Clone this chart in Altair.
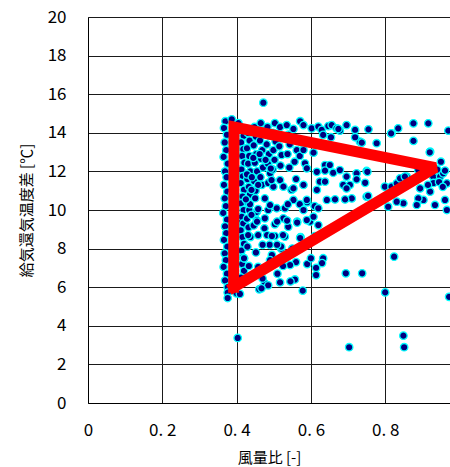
import altair as alt
import pandas as pd

# ---------------- data ----------------
left_x = [0.370,0.366,0.374,0.368,0.372,0.365,0.376,0.369,0.373,0.366,0.375,0.368,0.371,0.364,0.374,0.369,0.372,0.366,0.375,0.368,0.371,0.365,0.374,0.369,0.376,0.376,0.376]
left_y = [14.6,14.25,13.9,13.5,13.1,12.75,12.4,12.0,11.7,11.3,10.95,10.6,10.2,9.85,9.5,9.15,8.8,8.45,8.1,7.75,7.4,7.05,6.7,6.35,6.0,5.72,5.44]

bar_x = [0.387,0.405,0.395,0.401,0.388,0.404,0.396,0.400,0.409,0.392]
bar_y = [14.7,14.5,13.3,12.0,10.8,9.4,8.0,5.68,5.65,6.9]

c1_x = [0.414,0.419,0.412,0.418,0.415,0.421,0.413,0.417,0.411,0.420,0.416,0.412,0.419,0.414,0.418,0.411,0.416,0.420,0.413,0.417,0.415,0.420,0.412]
c1_y = [14.2,13.85,13.5,13.15,12.8,12.45,12.1,11.75,11.4,11.05,10.7,10.35,10.0,9.65,9.3,8.95,8.6,8.25,7.9,7.55,7.2,6.85,6.5]

c2_x = [0.430,0.435,0.428,0.434,0.431,0.437,0.429,0.433,0.436,0.430,0.434,0.428,0.432,0.437,0.429,0.420,0.433]
c2_y = [14.0,13.6,13.2,12.8,12.4,12.0,11.6,11.2,10.8,10.4,10.0,9.55,9.1,8.6,8.1,7.5,7.1]

c3_x = [0.448,0.452,0.446,0.453,0.449,0.455,0.447,0.451,0.450,0.454,0.446,0.458,0.452]
c3_y = [14.3,13.8,13.35,12.9,12.45,12.0,11.5,11.0,10.61,9.9,9.2,8.7,7.8]

c4_x = [0.465,0.470,0.463,0.469,0.466,0.471,0.464,0.468,0.454,0.476,0.475,0.458]
c4_y = [14.5,14.05,13.6,13.1,12.65,12.2,11.7,11.3,9.48,9.57,9.05,7.05]

c5_x = [0.483,0.488,0.481,0.487,0.484,0.490,0.485,0.485,0.482,0.489]
c5_y = [14.3,13.85,13.4,12.9,12.4,11.9,11.4,10.0,8.7,8.2]

c6_x = [0.503,0.498,0.505,0.499,0.502,0.497,0.499,0.494,0.503,0.503,0.495]
c6_y = [14.5,14.0,13.55,13.1,12.6,12.1,11.21,11.55,9.26,8.65,7.67]

c7_x = [0.517,0.522,0.515,0.521,0.518,0.517,0.508,0.526,0.530,0.526,0.520]
c7_y = [14.3,13.8,13.3,12.85,12.3,11.55,10.09,11.21,10.09,9.57,8.0]

c8_x = [0.535,0.540,0.543,0.537,0.542,0.548,0.539,0.530,0.553,0.553]
c8_y = [14.4,13.9,13.4,12.9,12.2,11.04,9.13,8.62,10.52,11.12]

c9_x = [0.553,0.558,0.562,0.556,0.560,0.571,0.575,0.570,0.563,0.572]
c9_y = [14.2,13.7,13.1,12.5,11.6,14.6,13.5,12.8,9.4,8.6]

mid_x = [0.440,0.458,0.436,0.490,0.538,0.570,0.590,0.610,0.455,0.509,0.536,0.563,0.598,0.431,0.495,0.525,0.571,0.611,0.470,0.520,0.550,0.560,0.590,0.600,
         0.445,0.462,0.478,0.428,0.441,0.425,0.458,0.44,0.476,0.492]
mid_y = [11.04,11.3,10.3,10.25,10.3,10.3,10.4,10.2,9.4,9.4,9.45,9.35,9.4,8.7,8.65,8.7,8.55,8.65,8.2,8.1,8.0,7.3,7.2,7.5,
         12.7,12.9,12.6,11.85,11.7,10.55,10.05,9.75,10.6,12.15]

low_x = [0.461,0.476,0.470,0.485,0.517,0.510,0.557,0.545,0.578,0.544,0.420,0.467,0.490,0.509,0.525]
low_y = [5.89,6.2,6.45,6.1,6.25,6.7,6.4,6.3,5.82,7.15,7.5,5.94,7.4,8.2,7.1]

right_x = [0.580,0.602,0.620,0.629,0.647,0.656,0.669,0.678,0.696,0.719,0.755,0.777,0.732,0.737,0.817,0.835,0.876,0.916,0.970,0.921,0.876,0.654,0.633,0.719,
           0.580,0.607,0.584,0.589,0.638,0.651,0.660,0.678,0.616,0.638,0.723,0.750,0.696,0.723,0.746,0.624,0.638,0.580,0.616,0.687,0.705,0.696,0.750,0.799,0.817,0.831,0.840,0.858,
           0.894,0.921,0.939,0.929,0.948,0.956,0.966,0.961,0.966,0.934,0.903,0.889,0.885,0.849,0.831,0.808,0.710,0.692,0.665,0.643,0.589,0.580,0.620,0.607,0.589,0.620,0.961,0.920,0.889,
           0.853,0.754,0.752,0.674,0.816,0.930,0.945,0.915,0.955,0.940,0.950,
           0.633,0.630,0.614,0.614,0.694,0.738,0.824,0.800,0.972]
right_y = [14.40,14.23,14.32,14.15,14.35,14.40,14.23,14.11,14.40,14.15,14.18,13.46,13.54,13.49,13.97,14.23,14.49,14.49,14.11,13.02,13.58,13.77,13.89,13.77,
           13.11,12.97,12.42,12.16,12.33,12.33,11.93,12.07,11.98,12.04,11.90,12.02,11.73,11.59,11.41,11.47,11.47,11.30,11.04,11.30,11.30,11.12,10.69,11.21,11.21,11.38,11.64,11.73,
           11.12,10.95,11.55,11.73,11.73,11.90,11.38,10.52,10.00,10.26,10.52,10.60,10.26,10.35,10.43,10.17,10.60,10.55,10.55,10.52,10.52,10.00,10.09,9.65,9.48,9.22,12.04,12.99,12.07,
           11.73,10.73,11.98,14.20,13.97,11.40,11.45,11.30,11.20,12.10,12.50,
           7.50,7.25,7.00,6.63,6.72,6.72,7.58,5.73,5.50]

out_x = [0.472,0.403,0.703,0.849,0.851]
out_y = [15.56,3.37,2.89,3.49,2.89]

tri_x = [0.392,0.393,0.935,0.392]
tri_y = [6.0,14.3,12.2,6.0]

x_ticks = [0, 0.2, 0.4, 0.6, 0.8]
y_ticks = [0, 2, 4, 6, 8, 10, 12, 14, 16, 18, 20]

# ---------------- build tables ----------------
xs = (left_x + bar_x + c1_x + c2_x + c3_x + c4_x + c5_x + c6_x + c7_x + c8_x + c9_x
      + mid_x + low_x + right_x + out_x)
ys = (left_y + bar_y + c1_y + c2_y + c3_y + c4_y + c5_y + c6_y + c7_y + c8_y + c9_y
      + mid_y + low_y + right_y + out_y)
df = pd.DataFrame({"x": xs, "y": ys})
tri = pd.DataFrame({"x": tri_x, "y": tri_y, "i": list(range(len(tri_x)))})

FONT = "Noto Sans CJK JP"
XMAX = 362 / 371.5

xscale = alt.Scale(domain=[0, XMAX], nice=False, zero=False)
yscale = alt.Scale(domain=[0, 20], nice=False)

xaxis = alt.Axis(values=x_ticks, labelExpr="datum.value == 0 ? '0' : '0. ' + round(datum.value * 10)",
                 grid=True, gridColor="#1a1a1a", gridWidth=1, tickSize=0, labelPadding=19,
                 labelFont=FONT, labelFontSize=17, labelColor="#000", domainColor="#000",
                 title="風量比 [-]", titleFont=FONT, titleFontSize=15, titleFontWeight="normal",
                 titleColor="#000", titlePadding=12, labelFlush=False, labelOverlap=False)
yaxis = alt.Axis(values=y_ticks, grid=True, gridColor="#1a1a1a", gridWidth=1, tickSize=0,
                 labelPadding=22, labelFont=FONT, labelFontSize=17, labelColor="#000",
                 domainColor="#000", title="給気還気温度差 [℃]", titleFont=FONT,
                 titleFontSize=15, titleFontWeight="normal", titleColor="#000", titlePadding=13,
                 labelFlush=False, labelOverlap=False)

points = alt.Chart(df).mark_circle(size=56, color="#000080", stroke="#00ffff", strokeWidth=1.3,
                                   opacity=1, clip=True).encode(
    x=alt.X("x:Q", scale=xscale, axis=xaxis),
    y=alt.Y("y:Q", scale=yscale, axis=yaxis),
)

triangle = alt.Chart(tri).mark_line(color="#ff0000", strokeWidth=11, strokeJoin="miter",
                                    strokeMiterLimit=2.5, strokeCap="square", clip=True).encode(
    x=alt.X("x:Q", scale=xscale, axis=xaxis),
    y=alt.Y("y:Q", scale=yscale, axis=yaxis),
    order="i:O",
)

chart = alt.layer(points, triangle).properties(
    width=362, height=386,
    autosize=alt.AutoSizeParams(type="none"),
    padding={"left": 88, "top": 17, "right": 0, "bottom": 64},
    background="white",
).configure_view(stroke=None)

chart.save("out.html", embed_options={"renderer": "svg", "actions": False})
